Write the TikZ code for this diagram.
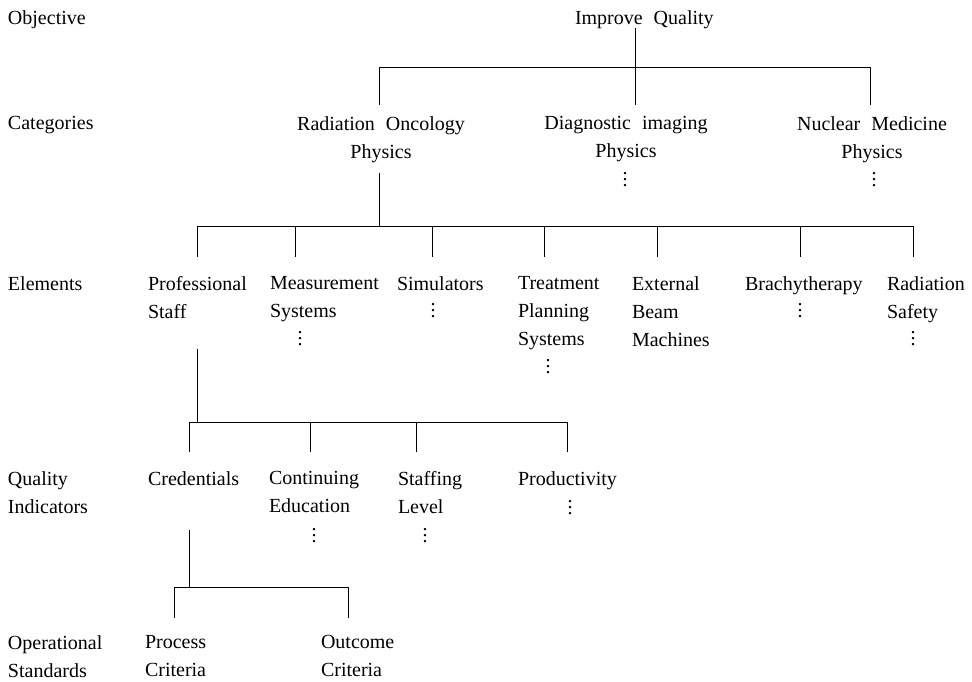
\documentclass[tikz,border=0pt]{standalone}
\usepackage{fontspec}
\setmainfont{Liberation Serif}[WordSpace=2.2]
\newcommand{\lblfont}{\fontsize{20pt}{28pt}\selectfont}
\newcommand{\vdts}{\vbox{\baselineskip=6pt\lineskiplimit=-20pt\hbox{.}\hbox{.}\hbox{.}}}
\tikzset{
	lbl/.style={inner sep=0pt, outer sep=0pt, align=left, anchor=north west},
	ctr/.style={lbl, align=center, anchor=north},
	dts/.style={inner sep=0pt},
	kid/.style={shorten >=19.5pt},
	kidc/.style={shorten >=11.3pt}
}

\begin{document}
\begin{tikzpicture}[x=1pt, y=-1pt, line width=0.9pt, font=\lblfont]
	\useasboundingbox (0,0) rectangle (972,681);
	% level names
	\node [lbl] (nobj) at (8,10.3) {Objective};
	\node [lbl] (ncat) at (8,116.3) {Categories};
	\node [lbl] (nelm) at (8,276.3) {Elements};
	\node [lbl] (nqi) at (8,471.3) {Quality\\Indicators};
	\node [lbl] (nos) at (8,635.3) {Operational\\Standards};
	% objective and categories
	\node [lbl] (iq) at (575,10.3) {Improve Quality};
	\node [ctr] (ro) at (381,116.3) {Radiation Oncology\\Physics};
	\node [ctr] (di) at (626,116.3) {Diagnostic imaging\\Physics};
	\node [ctr] (nm) at (872,116.3) {Nuclear Medicine\\Physics};
	\node [dts] (di-d) at (625,180) {\vdts};
	\node [dts] (nm-d) at (874,180) {\vdts};
	% elements
	\node [lbl] (ps) at (148,276.3) {Professional\\Staff};
	\node [lbl] (ms) at (270,276.3) {Measurement\\Systems};
	\node [lbl] (si) at (397,276.3) {Simulators};
	\node [lbl] (tp) at (518,276.3) {Treatment\\Planning\\Systems};
	\node [lbl] (eb) at (632,276.3) {External\\Beam\\Machines};
	\node [lbl] (br) at (745,276.3) {Brachytherapy};
	\node [lbl] (rs) at (887,276.3) {Radiation\\Safety};
	\node [dts] (ms-d) at (300,339) {\vdts};
	\node [dts] (si-d) at (433,311) {\vdts};
	\node [dts] (tp-d) at (548,367) {\vdts};
	\node [dts] (br-d) at (800,311) {\vdts};
	\node [dts] (rs-d) at (913,339) {\vdts};
	% quality indicators
	\node [lbl] (cr) at (148,471.3) {Credentials};
	\node [lbl] (ce) at (269,471.3) {Continuing\\Education};
	\node [lbl] (sl) at (398,471.3) {Staffing\\Level};
	\node [lbl] (pr) at (518,471.3) {Productivity};
	\node [dts] (ce-d) at (314,536) {\vdts};
	\node [dts] (sl-d) at (425,536) {\vdts};
	\node [dts] (pr-d) at (570,508) {\vdts};
	% operational standards
	\node [lbl] (pc) at (145,635.3) {Process\\Criteria};
	\node [lbl] (oc) at (321,635.3) {Outcome\\Criteria};

	\coordinate (j-iq) at (635,67);
	\coordinate (c-ro) at (379,67);
	\coordinate (c-nm) at (870,67);
	\draw (iq.south -| j-iq) -- (j-iq);
	\draw (c-ro) -- (c-nm);
	\foreach \c/\n in {c-ro/ro, j-iq/di, c-nm/nm}
		\draw [kidc] (\c) -- (\c |- \n.north);

	\coordinate (j-ro) at (379,226);
	\coordinate (e-ps) at (197,226);
	\coordinate (e-ms) at (295,226);
	\coordinate (e-si) at (432,226);
	\coordinate (e-tp) at (544,226);
	\coordinate (e-eb) at (657,226);
	\coordinate (e-br) at (800,226);
	\coordinate (e-rs) at (913,226);
	\draw [shorten <=10.7pt] (ro.south -| j-ro) -- (j-ro);
	\draw (e-ps) -- (e-rs);
	\foreach \n in {ps,ms,si,tp,eb,br,rs}
		\draw [kid] (e-\n) -- (e-\n |- \n.north);

	\coordinate (j-ps) at (197,422);
	\coordinate (q-cr) at (189,422);
	\coordinate (q-ce) at (310,422);
	\coordinate (q-sl) at (416,422);
	\coordinate (q-pr) at (567,422);
	\draw [shorten <=30pt] (ps.south -| j-ps) -- (j-ps);
	\draw (q-cr) -- (q-pr);
	\foreach \n in {cr,ce,sl,pr}
		\draw [kid] (q-\n) -- (q-\n |- \n.north);

	\coordinate (j-cr) at (189,587);
	\coordinate (o-pc) at (174,587);
	\coordinate (o-oc) at (348,587);
	\draw [shorten <=45pt] (cr.south -| j-cr) -- (j-cr);
	\draw (o-pc) -- (o-oc);
	\foreach \n in {pc,oc}
		\draw [kid, shorten >=17.3pt] (o-\n) -- (o-\n |- \n.north);
\end{tikzpicture}
\end{document}
